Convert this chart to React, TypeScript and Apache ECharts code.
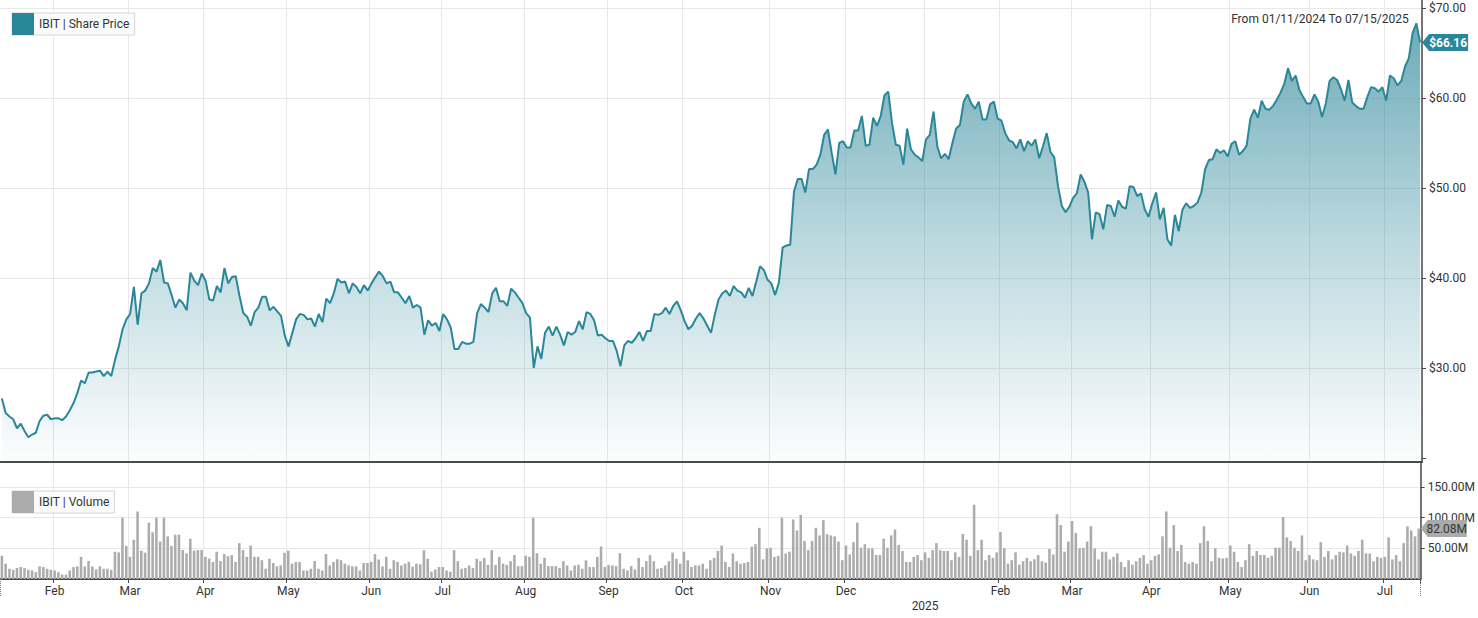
import React, { useEffect, useRef } from 'react';
import * as echarts from 'echarts';

// ---- categories: NYSE trading days 2024-01-11 .. 2025-07-15 ----
const HOLIDAYS = [
  '2024-01-15', '2024-02-19', '2024-03-29', '2024-05-27', '2024-06-19', '2024-07-04',
  '2024-09-02', '2024-11-28', '2024-12-25', '2025-01-01', '2025-01-09', '2025-01-20',
  '2025-02-17', '2025-04-18', '2025-05-26', '2025-06-19', '2025-07-04',
];
function tradingDays(): string[] {
  const out: string[] = [];
  const d = new Date(Date.UTC(2024, 0, 11));
  const end = Date.UTC(2025, 6, 15);
  while (d.getTime() <= end) {
    const dow = d.getUTCDay();
    const s = d.toISOString().slice(0, 10);
    if (dow !== 0 && dow !== 6 && HOLIDAYS.indexOf(s) < 0) out.push(s);
    d.setUTCDate(d.getUTCDate() + 1);
  }
  return out;
}
const dates = tradingDays();
const MONTHS = ['Jan', 'Feb', 'Mar', 'Apr', 'May', 'Jun', 'Jul', 'Aug', 'Sep', 'Oct', 'Nov', 'Dec'];

// ---- share price (USD) ----
const price = [
  26.6, 25.0, 24.6, 24.3, 23.3, 23.8, 23.0, 22.3, 22.6, 22.8,
  24.1, 24.7, 24.8, 24.3, 24.4, 24.4, 24.2, 24.6, 25.3, 26.1,
  27.2, 28.6, 28.3, 29.5, 29.5, 29.6, 29.7, 29.1, 29.6, 29.1,
  30.9, 32.4, 34.3, 35.4, 36.0, 39.0, 34.8, 38.3, 38.6, 39.4,
  41.1, 40.7, 42.0, 39.5, 39.4, 38.1, 36.7, 37.6, 37.2, 36.4,
  40.6, 39.7, 39.2, 40.5, 39.7, 37.6, 37.5, 39.1, 38.4, 41.1,
  39.4, 40.1, 40.2, 38.0, 36.1, 35.7, 34.7, 36.2, 36.7, 37.9,
  37.9, 36.4, 36.8, 36.3, 35.8, 33.6, 32.4, 33.9, 35.4, 36.0,
  35.9, 35.4, 35.5, 34.6, 36.0, 35.1, 37.7, 37.2, 38.3, 39.9,
  39.5, 39.6, 38.3, 39.4, 39.0, 38.3, 39.2, 38.6, 39.4, 40.1,
  40.7, 40.2, 39.4, 39.6, 38.4, 38.4, 37.8, 37.2, 38.0, 36.7,
  37.0, 36.7, 33.7, 35.3, 34.7, 35.0, 34.1, 36.0, 35.4, 34.5,
  32.1, 32.1, 32.9, 32.7, 32.7, 32.9, 36.1, 37.1, 36.7, 36.2,
  38.3, 38.9, 37.4, 37.4, 36.9, 38.8, 38.4, 37.8, 37.2, 36.1,
  35.6, 30.0, 32.4, 31.0, 33.9, 34.6, 33.6, 34.6, 33.7, 32.5,
  34.0, 33.7, 34.0, 35.2, 34.3, 36.2, 36.0, 35.3, 33.6, 33.7,
  33.3, 33.0, 33.0, 31.9, 30.2, 32.5, 33.0, 32.8, 33.3, 34.0,
  33.0, 34.1, 34.1, 36.0, 35.9, 36.1, 36.7, 36.0, 36.9, 37.4,
  36.4, 35.2, 34.3, 34.7, 35.5, 36.1, 35.5, 34.7, 33.9,
  35.9, 37.6, 38.3, 38.6, 38.0, 39.1, 38.6, 38.4, 37.8, 38.9, 38.0,
  39.6, 41.3, 40.9, 39.8, 39.4, 38.1, 39.5, 43.4, 43.6, 43.7,
  49.6, 51.0, 51.0, 49.5, 52.1, 52.1, 52.6, 53.7, 55.9, 56.5,
  53.9, 51.5, 55.0, 55.2, 54.5, 54.5, 56.4, 56.4, 58.0, 54.7,
  54.8, 57.8, 56.9, 58.0, 60.3, 60.7, 57.2, 54.8, 54.7, 52.6,
  56.6, 54.3, 53.7, 53.4, 53.0, 55.4, 55.9, 58.5, 54.6, 53.3,
  53.8, 53.2, 55.0, 56.6, 57.0, 59.6, 60.4, 59.4, 58.8, 59.6,
  57.6, 57.6, 59.3, 59.6, 57.7, 57.5, 56.1, 55.3, 55.1, 54.4,
  55.4, 54.1, 55.2, 54.7, 55.4, 53.3, 54.6, 56.1, 54.0, 53.4,
  50.2, 48.0, 47.3, 47.9, 48.9, 49.4, 51.5, 50.7,
  49.5, 44.3, 47.3, 47.1, 45.4, 48.1, 48.0, 46.8, 48.6, 47.9, 47.7, 50.2,
  50.1, 49.1, 49.4, 47.6, 46.8, 48.3, 49.5, 46.5, 47.8, 44.3,
  43.6, 47.0, 45.2, 47.6, 48.3, 47.8, 48.0, 48.4, 49.5, 52.1,
  53.1, 53.2, 54.3, 53.9, 54.2, 53.5, 54.9, 55.2, 53.7, 54.1,
  54.7, 57.7, 58.7, 57.8, 59.7, 58.8, 58.7, 59.1, 59.8, 60.6,
  61.6, 63.3, 61.9, 62.5, 60.9, 60.1, 59.4, 59.4, 60.4, 59.6,
  57.9, 59.4, 61.9, 62.3, 62.0, 61.0, 59.7, 62.0, 59.5, 59.1,
  58.8, 58.8, 60.1, 61.2, 61.1, 60.7, 61.2, 59.7, 62.5, 62.2,
  61.4, 61.9, 63.5, 64.4, 67.2, 68.3, 66.16,
];

// ---- volume (millions of shares) ----
const volumeM = [
  37.8, 25, 16.7, 15, 17.8, 19.4, 17.8, 15, 13.9, 11.1,
  20.6, 19.4, 16.7, 15, 13.9, 11.1, 7.2, 7.2, 13.9, 19.4,
  20.6, 36.1, 20.6, 29.4, 20.6, 15.6, 20.6, 16.7, 16.7, 15,
  44.4, 43.3, 100, 53.9, 36.1, 63.9, 110, 46.1, 42.8, 91.7,
  76.1, 100, 61.1, 100, 69.4, 53.9, 72.2, 72.2, 47.2, 41.7,
  65.6, 46.1, 47.2, 47.2, 36.1, 33.3, 27.8, 44.4, 29.4, 40.6,
  37.2, 38.9, 27.8, 58.3, 47.2, 36.1, 54.4, 36.1, 36.1, 30.6,
  16.7, 32.8, 26.1, 20.6, 22.2, 42.8, 46.1, 25, 27.8, 27.8,
  13.9, 13.9, 16.7, 29.4, 16.7, 13.9, 40.6, 22.2, 27.8, 32.2,
  30.6, 25, 22.2, 20.6, 20.6, 13.9, 26.1, 26.1, 27.8, 40.6,
  31.7, 20.6, 36.1, 16.7, 30.6, 27.8,
  22, 25, 28, 20, 25, 24, 47, 33, 12, 15.6,
  19.5, 19.5, 14, 12, 47, 29, 16.7, 17.8, 22, 17.8,
  33, 29, 34.5, 23, 47, 23, 36, 25, 23, 29,
  39, 21, 21, 38, 36, 100, 42, 25, 34.5, 21,
  21, 21, 17.8, 29, 22, 14, 22, 23, 16.7, 30.5,
  19.5, 19.5, 36, 53, 19.5, 23, 22, 21, 42, 16.7,
  14, 21, 15.6, 34.5, 19.5, 29, 39, 29, 16.7, 17.8,
  22, 29, 43, 33, 25, 44.5, 30.5, 19.5, 22, 22,
  25, 16.7, 30.5,
  34.5, 45.6, 54.5, 27.8, 19.5, 41.7, 29, 25, 26, 27.8,
  52.8, 56.7, 83.4, 32, 50, 51, 36, 37.8, 100, 41.7,
  44.5, 97, 79, 104.5, 62, 47, 62, 83.4, 71, 96,
  73, 71, 69.5, 61, 30.6, 54.5, 40, 60, 91.7, 51,
  56.7, 50, 50, 39, 39, 65.6, 51, 71, 80.6, 55.6,
  45.6, 27.8, 27.8, 36, 39, 30.6, 43.4, 34.5, 47, 58.4,
  47, 45.6, 45.6, 30.6, 43.4, 36, 73.4, 64, 37.8, 121,
  47, 64, 30.6, 39, 34.5, 43.4, 76.7, 50, 25, 30.6,
  43.4, 23.4, 29, 34.5, 29, 32.2, 39, 29, 26.7, 49,
  40, 105.6, 87.8, 44.5, 61, 94.5, 75, 50, 51, 61,
  86, 50, 32, 44.5, 44.5, 32, 36, 41.7, 27.8, 19.5,
  30.6, 23.4, 29, 34.5, 39, 25, 30.6, 37.8, 40, 69.5,
  110, 51, 87.8, 45.6, 55.6, 27.8, 25, 27.8, 25, 58.4,
  86, 62, 29, 50, 34.5, 33.4, 34.5, 54.5, 44.5, 27.8,
  19.5, 30.6, 56.7, 37.8, 45.6, 39, 39, 34.5, 37.8, 51,
  51, 101, 67.8, 62, 51, 45.6, 71, 30.6, 39, 32,
  30.6, 60, 36, 45.6, 32, 39, 44.5, 43.4, 54.5, 41.7,
  37.8, 45.6, 64, 41.7, 41.7, 29, 36, 34.5, 36, 67.8,
  32, 39, 29, 58.4, 86, 79, 69.5, 82.08,
];

const rangeText = 'From 01/11/2024 To 07/15/2025';
const priceName = 'IBIT | Share Price';
const volumeName = 'IBIT | Volume';

const TEAL = '#2a8799';
const GRID_COLOR = '#e8e8e8';
const AXIS_COLOR = '#4a4a4a';

const isMonthStart = (i: number) => i > 0 && dates[i].slice(5, 7) !== dates[i - 1].slice(5, 7);
const isYearStart = (i: number) => isMonthStart(i) && dates[i].slice(5, 7) === '01';

export default function App() {
  const ref = useRef<HTMLDivElement>(null);
  useEffect(() => {
    if (!ref.current) return;
    const chart = echarts.init(ref.current, undefined, { renderer: 'svg' });
    const last = price.length - 1;
    const legendBase = {
      icon: 'rect',
      itemWidth: 22,
      itemHeight: 22,
      padding: [0, 5, 0, 0],
      borderColor: '#d6d6d6',
      borderWidth: 1,
      backgroundColor: '#fbfbfb',
      selectedMode: false,
      textStyle: { fontSize: 12, color: '#333' },
    };
    const option: any = {
      animation: false,
      textStyle: { fontFamily: 'Roboto, "Noto Sans", sans-serif' },
      title: {
        text: rangeText,
        right: 64,
        top: 8,
        textStyle: { fontSize: 12, fontWeight: 'normal', color: '#333' },
      },
      legend: [
        { ...legendBase, data: [priceName], left: 12, top: 13 },
        { ...legendBase, data: [volumeName], left: 12, top: 491 },
      ],
      grid: [
        { left: 0, right: 56, top: 0, height: 462 },
        { left: 0, right: 56, top: 463, height: 116 },
      ],
      xAxis: [
        {
          type: 'category', gridIndex: 0, data: dates, boundaryGap: true,
          axisLine: { show: true, onZero: false, lineStyle: { color: AXIS_COLOR, width: 2 } },
          axisTick: { show: false },
          axisLabel: { show: false },
          splitLine: { show: true, interval: (i: number) => isMonthStart(i), lineStyle: { color: GRID_COLOR } },
        },
        {
          type: 'category', gridIndex: 1, data: dates, boundaryGap: true, position: 'bottom',
          axisLine: { show: true, onZero: false, lineStyle: { color: AXIS_COLOR, width: 2 } },
          axisTick: {
            show: true, length: 4, interval: (i: number) => isMonthStart(i) && !isYearStart(i),
            lineStyle: { color: AXIS_COLOR },
          },
          axisLabel: {
            show: true, margin: 6, fontSize: 12, color: '#333',
            interval: (i: number) => isMonthStart(i) && !isYearStart(i),
            formatter: (v: string) => MONTHS[parseInt(v.slice(5, 7), 10) - 1],
          },
          splitLine: { show: true, interval: (i: number) => isMonthStart(i), lineStyle: { color: GRID_COLOR } },
        },
        {
          type: 'category', gridIndex: 1, data: dates, boundaryGap: true, position: 'bottom', offset: 0,
          axisLine: { show: false },
          axisTick: {
            show: true, length: 18, interval: (i: number) => isYearStart(i),
            lineStyle: { color: '#777', type: 'dotted' },
          },
          axisLabel: {
            show: true, margin: 21, fontSize: 12, color: '#333',
            interval: (i: number) => isYearStart(i),
            formatter: (v: string) => v.slice(0, 4),
          },
          splitLine: { show: false },
        },
      ],
      yAxis: [
        {
          type: 'value', gridIndex: 0, position: 'right', min: 19.55, max: 70.89, scale: true,
          axisLine: { show: true, lineStyle: { color: AXIS_COLOR, width: 1.5 } },
          axisTick: { show: true, length: 4, lineStyle: { color: AXIS_COLOR } },
          axisLabel: {
            show: true, margin: 7, fontSize: 12, color: '#333',
            showMinLabel: false, showMaxLabel: false,
            formatter: (v: number) => (v < 25 ? '' : '$' + v.toFixed(2)),
          },
          splitLine: {
            show: true, showMinLine: false, showMaxLine: false,
            lineStyle: { color: ['rgba(0,0,0,0)', GRID_COLOR, GRID_COLOR, GRID_COLOR, GRID_COLOR, GRID_COLOR] },
          },
        },
        {
          type: 'value', gridIndex: 1, position: 'right', min: 0, max: 189, interval: 50,
          axisLine: { show: true, lineStyle: { color: AXIS_COLOR, width: 1.5 } },
          axisTick: { show: true, length: 4, lineStyle: { color: AXIS_COLOR } },
          axisLabel: {
            show: true, margin: 7, fontSize: 12, color: '#333',
            showMinLabel: false, showMaxLabel: false,
            formatter: (v: number) => v.toFixed(2) + 'M',
          },
          splitLine: { show: true, showMinLine: false, showMaxLine: false, lineStyle: { color: GRID_COLOR } },
        },
      ],
      series: [
        {
          name: priceName, type: 'line', xAxisIndex: 0, yAxisIndex: 0, data: price,
          color: TEAL, symbol: 'none', smooth: false,
          lineStyle: { color: TEAL, width: 2 },
          areaStyle: {
            color: new echarts.graphic.LinearGradient(0, 0, 0, 1, [
              { offset: 0, color: 'rgba(36,128,148,0.95)' },
              { offset: 0.5, color: 'rgba(42,135,153,0.45)' },
              { offset: 1, color: 'rgba(42,135,153,0.02)' },
            ]),
          },
          markPoint: {
            symbol: 'path://M0,8L7,0L46,0L46,16L7,16Z',
            symbolSize: [46, 17],
            symbolKeepAspect: false,
            symbolOffset: [25, 0],
            itemStyle: { color: TEAL },
            z: 10,
            label: {
              show: true, position: 'inside', color: '#fff', fontWeight: 'bold', fontSize: 12, offset: [3, 0],
              formatter: () => '$' + price[last].toFixed(2),
            },
            data: [{ coord: [last, price[last]] }],
          },
        },
        {
          name: volumeName, type: 'bar', xAxisIndex: 1, yAxisIndex: 1, data: volumeM,
          color: '#acacac', barCategoryGap: '32%',
          itemStyle: { color: '#acacac' },
          markPoint: {
            symbol: 'path://M0,8L7,0L46,0L46,16L7,16Z',
            symbolSize: [46, 17],
            symbolKeepAspect: false,
            symbolOffset: [25, 0],
            itemStyle: { color: '#aaaaaa' },
            z: 10,
            label: {
              show: true, position: 'inside', color: '#333', fontSize: 12, offset: [3, 0],
              formatter: () => volumeM[last].toFixed(2) + 'M',
            },
            data: [{ coord: [last, volumeM[last]] }],
          },
        },
      ],
    };
    chart.setOption(option);
    return () => chart.dispose();
  }, []);
  return (
    <div
      ref={ref}
      style={{ position: 'fixed', left: 0, top: 0, width: 1478, height: 618, background: '#fff' }}
    />
  );
}
